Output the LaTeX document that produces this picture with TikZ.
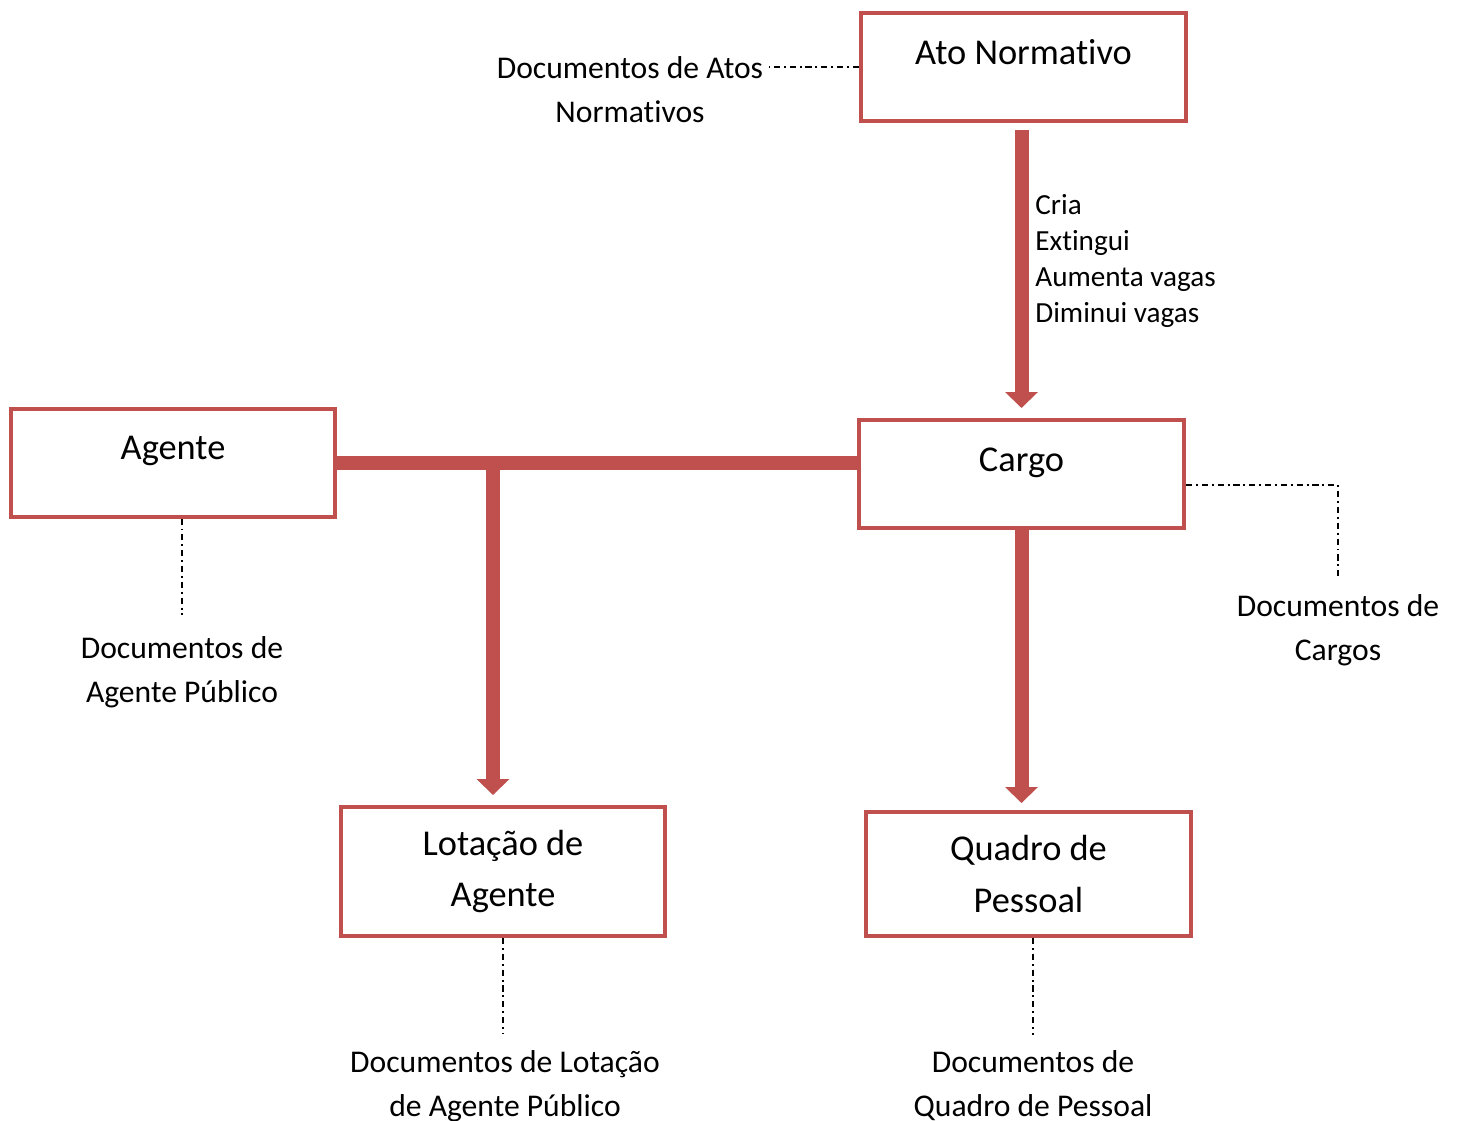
\documentclass[tikz,border=0pt]{standalone}
\usepackage{fontspec}
\setmainfont{Carlito}[Ligatures=CommonOff]
\usetikzlibrary{arrows.meta}
\definecolor{boxred}{HTML}{C0504D}

\begin{document}
\begin{tikzpicture}[x=0.02cm, y=-0.02cm,
  box/.style={draw=boxred, line width=0.08cm, minimum width=6.5cm,
    minimum height=2.16cm, font=\fontsize{20.7}{29.5}\selectfont},
  onebox/.style={box, text height=14pt, text depth=17pt},
  twobox/.style={box, align=center},
  doc/.style={font=\fontsize{18}{25}\selectfont, align=center},
  flow/.style={boxred, line width=0.28cm,
    -{Triangle[width=0.64cm,length=0.32cm]}},
  link/.style={line width=0.9pt,
    dash pattern=on 3.5pt off 2.2pt on 1.1pt off 2.2pt}]
  \useasboundingbox (0,0) rectangle (1457,1120);

  % boxes
  \node[onebox] (ato) at (1023.5,67) {Ato Normativo};
  \node[onebox] (agente) at (173,462.5) {Agente};
  \node[onebox] (cargo) at (1021.5,474) {Cargo};
  \node[twobox, minimum height=2.58cm] (lot) at (503,871.5) {Lotação de\\Agente};
  \node[twobox, minimum height=2.48cm] (quadro) at (1028.5,874) {Quadro de\\Pessoal};

  % documents
  \node[doc] (docato) at (630,90) {Documentos de Atos\\Normativos};
  \node[doc] (doccargo) at (1338,630) {Documentos de\\Cargos};
  \node[doc] (docagente) at (182,672) {Documentos de\\Agente Público};
  \node[doc] (doclot) at (505,1086) {Documentos de Lotação\\de Agente Público};
  \node[doc] (docquadro) at (1033,1086) {Documentos de\\Quadro de Pessoal};

  \node[anchor=west, align=left, inner sep=0pt,
    font=\fontsize{16.6}{20.4}\selectfont] (acoes) at (1035,261)
    {Cria\\Extingui\\Aumenta vagas\\Diminui vagas};

  % red connectors
  \draw[flow, shorten <=0.14cm, shorten >=0.2cm]
    (cargo.north |- ato.south) -- (cargo.north);
  \draw[boxred, line width=0.28cm] (agente.east) -- (agente.east -| cargo.west);
  \coordinate (split) at (493,462.5);
  \draw[flow, shorten >=0.2cm] (split) -- (split |- lot.north);
  \draw[flow, shorten >=0.14cm] (cargo.south) -- (cargo.south |- quadro.north);

  % dash-dot links
  \draw[link] (ato.west) -- (ato.west -| docato.east);
  \coordinate (cargoout) at ([yshift=-0.22cm]cargo.east);
  \draw[link, shorten >=0.25cm] (cargoout) -| (doccargo.north);
  \draw[link, shorten >=0.3cm] (docagente.north |- agente.south) -- (docagente.north);
  \draw[link, shorten >=0.2cm] (lot.south) -- (lot.south |- doclot.north);
  \draw[link, shorten >=0.2cm] (docquadro.north |- quadro.south) -- (docquadro.north);
\end{tikzpicture}
\end{document}
